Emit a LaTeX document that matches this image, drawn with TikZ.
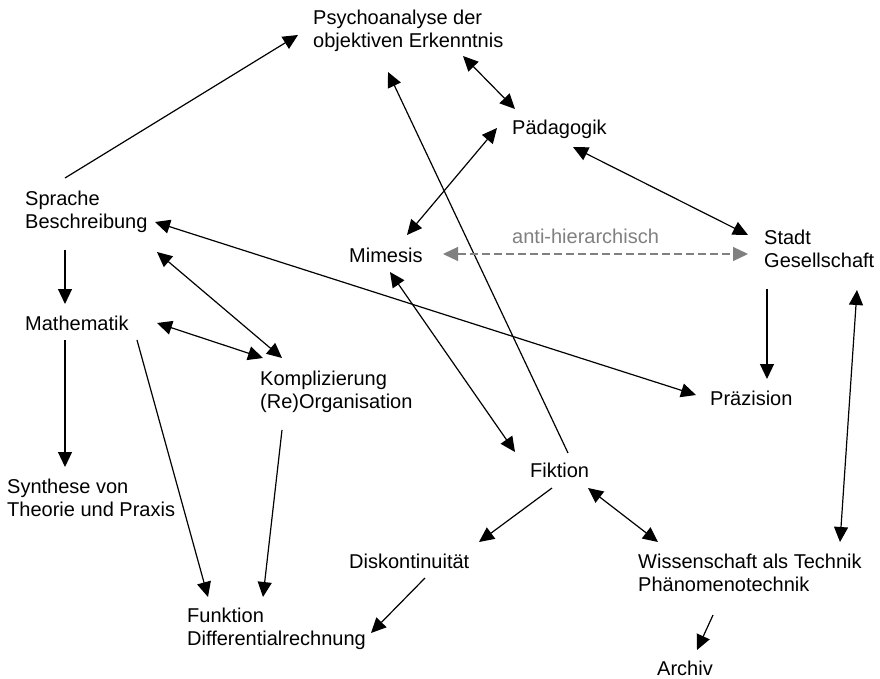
\documentclass[tikz,border=0pt]{standalone}
\usepackage{fontspec}
\setmainfont{Liberation Sans}
\usetikzlibrary{arrows.meta}
\definecolor{anticol}{RGB}{128,128,128}
\newcommand{\twolines}[2]{\begin{tabular}[t]{@{}l@{}}#1\\#2\end{tabular}}
\tikzset{
  lbl/.style={anchor=base west, inner sep=0pt, font=\fontsize{20}{23}\selectfont},
  arr/.style={line width=1.2pt, -{Triangle[length=15pt,width=14pt]}},
  darr/.style={line width=1.2pt, {Triangle[length=15pt,width=14pt]}-{Triangle[length=15pt,width=14pt]}},
  garr/.style={line width=1.2pt, anticol, dash pattern=on 8pt off 4pt, {Triangle[length=15pt,width=14pt]}-{Triangle[length=15pt,width=14pt]}}
}
\begin{document}
\begin{tikzpicture}[x=1pt,y=-1pt]
\useasboundingbox (0,0) rectangle (880,679);
% labels
\node[lbl] (psy) at (313,25) {\twolines{Psychoanalyse der}{objektiven Erkenntnis}};
\node[lbl] (paed) at (512,135) {Pädagogik};
\node[lbl] (spr) at (25,205) {\twolines{Sprache}{Beschreibung}};
\node[lbl] (mim) at (349,262) {Mimesis};
\node[lbl, text=anticol] (anti) at (512,243) {anti-hierarchisch};
\node[lbl] (sta) at (764,244) {\twolines{Stadt}{Gesellschaft}};
\node[lbl] (mat) at (25,330) {Mathematik};
\node[lbl] (kom) at (260,385) {\twolines{Komplizierung}{(Re)Organisation}};
\node[lbl] (pra) at (710,405) {Präzision};
\node[lbl] (syn) at (7,493) {\twolines{Synthese von}{Theorie und Praxis}};
\node[lbl] (fik) at (530,477) {Fiktion};
\node[lbl] (dis) at (349,568) {Diskontinuität};
\node[lbl] (wis) at (638,568) {\twolines{Wissenschaft als Technik}{Phänomenotechnik}};
\node[lbl] (fun) at (187,622) {\twolines{Funktion}{Differentialrechnung}};
\node[lbl] (arc) at (657,675) {Archiv};
% connector end points
\coordinate (s1) at (65,178);   \coordinate (p1) at (298,35);
\coordinate (f1) at (568,453);  \coordinate (p2) at (388,72);
\coordinate (p3) at (463,56);   \coordinate (d1) at (515,109);
\coordinate (d2) at (497,128);  \coordinate (m1) at (407,235);
\coordinate (d3) at (573,147);  \coordinate (st1) at (748,235);
\coordinate (m2) at (443,254);  \coordinate (st2) at (748,254);
\coordinate (s2) at (155,222);  \coordinate (pr1) at (696,395);
\coordinate (s3) at (157,252);  \coordinate (k1) at (282,358);
\coordinate (ma1) at (157,323); \coordinate (k2) at (263,358);
\coordinate (s4) at (65,250);   \coordinate (ma2) at (65,304);
\coordinate (ma3) at (65,340);  \coordinate (sy1) at (65,467);
\coordinate (ma4) at (137,340); \coordinate (fu1) at (208,597);
\coordinate (k3) at (282,430);  \coordinate (fu2) at (263,597);
\coordinate (di1) at (425,578); \coordinate (fu3) at (371,633);
\coordinate (m3) at (390,272);  \coordinate (f2) at (515,452);
\coordinate (f3) at (552,488);  \coordinate (di2) at (479,542);
\coordinate (f4) at (588,488);  \coordinate (w1) at (658,542);
\coordinate (st3) at (767,289); \coordinate (pr2) at (767,379);
\coordinate (st4) at (857,290); \coordinate (w2) at (840,542);
\coordinate (w3) at (713,615);  \coordinate (ar1) at (697,650);
% connectors
\draw[arr] (s1) -- (p1);
\draw[arr] (f1) -- (p2);
\draw[darr] (p3) -- (d1);
\draw[darr] (d2) -- (m1);
\draw[darr] (d3) -- (st1);
\draw[garr] (m2) -- (st2);
\draw[darr] (s2) -- (pr1);
\draw[darr] (s3) -- (k1);
\draw[darr] (ma1) -- (k2);
\draw[arr] (s4) -- (ma2);
\draw[arr] (ma3) -- (sy1);
\draw[arr] (ma4) -- (fu1);
\draw[arr] (k3) -- (fu2);
\draw[arr] (di1) -- (fu3);
\draw[darr] (m3) -- (f2);
\draw[arr] (f3) -- (di2);
\draw[darr] (f4) -- (w1);
\draw[arr] (st3) -- (pr2);
\draw[darr] (st4) -- (w2);
\draw[arr] (w3) -- (ar1);
\end{tikzpicture}
\end{document}
